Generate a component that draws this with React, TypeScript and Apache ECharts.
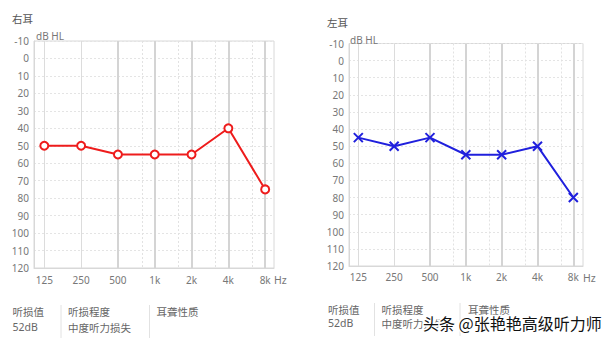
import React, { useEffect, useRef } from "react";
import * as echarts from "echarts";

// Frequencies (log2 steps from 125 Hz)
const freqLabels = ["125", "250", "500", "1k", "2k", "4k", "8k"];
const freqIndex = [0, 1, 2, 3, 4, 5, 6];
// Intermediate (half-octave) frequencies 750, 1.5k, 3k, 6k
const midFreqIndex = [2.65, 3.65, 4.65, 5.65];
// Hearing thresholds (dB HL)
const rightEar = [50, 50, 55, 55, 55, 40, 75];
const leftEar = [45, 50, 45, 55, 55, 50, 80];
const yTicks = { min: -10, max: 120, interval: 10 };

const FONT = "'Noto Sans', 'Noto Sans CJK SC', sans-serif";
const CJK = "'Noto Sans CJK SC', sans-serif";

const X_MARK = "path://M0,0L10,10M10,0L0,10";

function gridLines(gridIdx: number) {
  const data: any[] = [];
  freqIndex.forEach((v, i) => {
    data.push({
      xAxis: v,
      lineStyle: i < 2
        ? { color: "#dcdcdc", width: 1, type: "solid" }
        : { color: "#d4d4d4", width: 2, type: "solid" },
    });
  });
  midFreqIndex.forEach((v) => {
    data.push({ xAxis: v, lineStyle: { color: "#e2e2e2", width: 1, type: [2, 2] } });
  });
  return {
    type: "line",
    xAxisIndex: gridIdx,
    yAxisIndex: gridIdx,
    data: [],
    z: 1,
    silent: true,
    markLine: {
      silent: true,
      symbol: "none",
      label: { show: false },
      data,
      animation: false,
    },
  };
}

export default function App() {
  const ref = useRef<HTMLDivElement>(null);
  useEffect(() => {
    const chart = echarts.init(ref.current!, undefined, { renderer: "svg" });
    const xAxisBase = (gridIndex: number, min: number, max: number, margin: number) => ({
      type: "value",
      gridIndex,
      min,
      max,
      axisLine: { show: true, onZero: false, lineStyle: { color: "#d8d8d8" } },
      axisTick: { show: false },
      splitLine: { show: false },
      axisLabel: {
        customValues: freqIndex,
        formatter: (v: number) => freqLabels[Math.round(v)] ?? "",
        color: "#777",
        fontSize: 10,
        fontFamily: FONT,
        margin,
      },
    });
    const yAxisBase = (gridIndex: number) => ({
      type: "value",
      gridIndex,
      inverse: true,
      min: yTicks.min,
      max: yTicks.max,
      interval: yTicks.interval,
      axisLine: { show: true, onZero: false, lineStyle: { color: "#d8d8d8" } },
      axisTick: { show: false },
      splitLine: { show: true, lineStyle: { color: "#e4e4e4", type: [2, 2] } },
      axisLabel: { color: "#777", fontSize: 10, fontFamily: FONT, margin: 5 },
    });
    const text = (x: number, y: number, t: string, size = 10, color = "#666", extra: any = {}) => ({
      type: "text",
      x,
      y,
      style: { text: t, fill: color, fontSize: size, fontFamily: CJK, textVerticalAlign: "middle", ...extra },
      z: 10,
    });
    const vline = (x: number, y1: number, y2: number) => ({
      type: "line",
      shape: { x1: x, y1, x2: x, y2 },
      style: { stroke: "#e2e2e2", lineWidth: 1 },
    });
    chart.setOption({
      animation: false,
      backgroundColor: "#ffffff",
      grid: [
        { left: 34, top: 41, width: 240, height: 227, show: true, borderColor: "#d8d8d8", borderWidth: 1 },
        { left: 349, top: 43.5, width: 234, height: 222.5, show: true, borderColor: "#d8d8d8", borderWidth: 1 },
      ],
      xAxis: [xAxisBase(0, -0.28, 6.24, 7), xAxisBase(1, -0.26, 6.27, 6)],
      yAxis: [yAxisBase(0), yAxisBase(1)],
      series: [
        gridLines(0),
        gridLines(1),
        {
          type: "line",
          name: "右耳",
          xAxisIndex: 0,
          yAxisIndex: 0,
          z: 5,
          data: freqIndex.map((x, i) => [x, rightEar[i]]),
          lineStyle: { color: "#ee1c1c", width: 2 },
          itemStyle: { color: "#ee1c1c", borderColor: "#ee1c1c", borderWidth: 2 },
          symbol: "emptyCircle",
          symbolSize: 8,
        },
        {
          type: "line",
          name: "左耳",
          xAxisIndex: 1,
          yAxisIndex: 1,
          z: 5,
          data: freqIndex.map((x, i) => [x, leftEar[i]]),
          lineStyle: { color: "#2020dd", width: 2 },
          itemStyle: { color: "#2020dd", borderColor: "#2020dd", borderWidth: 2 },
          symbol: X_MARK,
          symbolSize: 9,
        },
      ],
      graphic: [
        text(12, 18.5, "右耳", 10.5, "#555"),
        text(36, 35.5, "dB HL", 10, "#777", { fontFamily: FONT }),
        text(274, 280, "Hz", 10.5, "#777", { fontFamily: FONT }),
        text(12.5, 311, "听损值", 10.5, "#666"),
        text(12.5, 327, "52dB", 10.5, "#666", { fontFamily: FONT }),
        vline(61, 305, 338),
        text(68, 311, "听损程度", 10.5, "#666"),
        text(68, 327, "中度听力损失", 10.5, "#666"),
        vline(149.5, 305, 338),
        text(156.5, 311, "耳聋性质", 10.5, "#666"),

        text(327, 22.5, "左耳", 10.5, "#555"),
        text(350, 39.5, "dB HL", 10, "#777", { fontFamily: FONT }),
        text(583, 277.5, "Hz", 10.5, "#777", { fontFamily: FONT }),
        text(328, 309, "听损值", 10.5, "#666"),
        text(328, 323, "52dB", 10.5, "#666", { fontFamily: FONT }),
        vline(374.5, 303, 336),
        text(381.5, 309, "听损程度", 10.5, "#666"),
        text(381.5, 323, "中度听力损失", 10.5, "#666"),
        vline(460, 303, 336),
        text(468, 309, "耳聋性质", 10.5, "#666"),

        {
          type: "text",
          x: 423,
          y: 323,
          z: 20,
          style: {
            text: "头条 @张艳艳高级听力师",
            fill: "#111",
            fontSize: 16,
            fontFamily: CJK,
            textVerticalAlign: "middle",
            stroke: "#ffffff",
            lineWidth: 3,
          },
        },
      ],
    });
    return () => chart.dispose();
  }, []);
  return <div ref={ref} style={{ width: 604, height: 341, position: "absolute", left: 0, top: 0 }} />;
}
